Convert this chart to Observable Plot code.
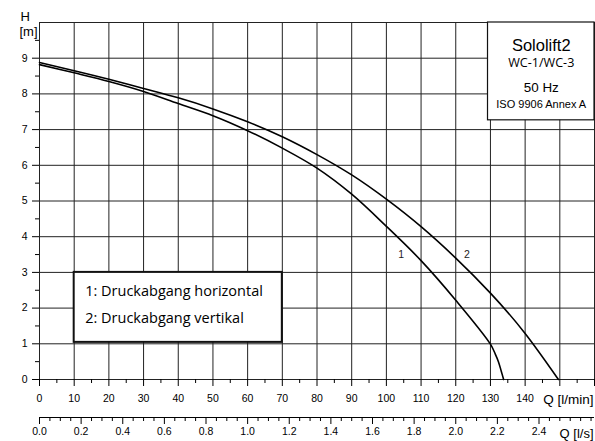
<!DOCTYPE html>
<html>
<head>
<meta charset="utf-8">
<script src="https://cdn.jsdelivr.net/npm/d3@7"></script>
<script src="https://cdn.jsdelivr.net/npm/@observablehq/plot@0.6"></script>
<style>
  html, body { margin: 0; padding: 0; background: #fff; }
  #chart svg { display: block; }
</style>
</head>
<body>
<div id="chart"></div>
<script>
// ---- data ----
// Curve 1: Druckabgang horizontal  (Q in l/min, H in m)
const q1 = [0, 10, 20, 30, 40, 50, 60, 70, 80, 90, 100, 110, 120, 130, 131.4, 132.3, 133.1, 133.8];
const h1 = [8.82, 8.59, 8.35, 8.07, 7.73, 7.39, 6.97, 6.48, 5.92, 5.19, 4.29, 3.33, 2.22, 0.99, 0.71, 0.5, 0.24, 0];
// Curve 2: Druckabgang vertikal
const q2 = [0, 10, 20, 30, 40, 50, 60, 70, 80, 90, 100, 110, 120, 130, 140, 149.6];
const h2 = [8.88, 8.65, 8.41, 8.15, 7.89, 7.58, 7.22, 6.80, 6.30, 5.73, 5.05, 4.28, 3.40, 2.42, 1.29, 0];

const curveNames = ["1", "2"];
const legendLines = ["1: Druckabgang horizontal", "2: Druckabgang vertikal"];
const infoLines = ["Sololift2", "WC-1/WC-3", "50 Hz", "ISO 9906 Annex A"];

// tick values
const qGrid = [0, 10, 20, 30, 40, 50, 60, 70, 80, 90, 100, 110, 120, 130, 140, 150, 160];
const qTickLabels = [0, 10, 20, 30, 40, 50, 60, 70, 80, 90, 100, 110, 120, 130, 140];
const qExtraMajor = [150, 160];
const qMinor = [5, 15, 25, 35, 45, 55, 65, 75, 85, 95, 105, 115, 125, 135, 145, 155];
const hGrid = [0, 1, 2, 3, 4, 5, 6, 7, 8, 9, 10];
const hTickLabels = [0, 1, 2, 3, 4, 5, 6, 7, 8, 9];
const hMinor = [0.5, 1.5, 2.5, 3.5, 4.5, 5.5, 6.5, 7.5, 8.5, 9.5];
const lsTickLabels = [0.0, 0.2, 0.4, 0.6, 0.8, 1.0, 1.2, 1.4, 1.6, 1.8, 2.0, 2.2, 2.4];
const lsMinor = [0.05, 0.1, 0.15, 0.25, 0.3, 0.35, 0.45, 0.5, 0.55, 0.65, 0.7, 0.75, 0.85, 0.9, 0.95,
                 1.05, 1.1, 1.15, 1.25, 1.3, 1.35, 1.45, 1.5, 1.55, 1.65, 1.7, 1.75, 1.85, 1.9, 1.95,
                 2.05, 2.1, 2.15, 2.25, 2.3, 2.35, 2.45, 2.5, 2.55, 2.6, 2.65];

// ---- build tables ----
const curve1 = q1.map((q, i) => ({q, h: h1[i]}));
const curve2 = q2.map((q, i) => ({q, h: h2[i]}));
const lsPerMin = 60;

const SANS = "'Liberation Sans', Arial, sans-serif";
const SEGOE = "'Open Sans', 'Noto Sans', sans-serif";

const infoBox = [{x1: 129.3, x2: 160, y1: 7.26, y2: 10}];
const legendBox = [{x1: 10, x2: 70, y1: 1.04, y2: 3}];
const lsOffset = 38;

const chart = Plot.plot({
  width: 595,
  height: 441,
  marginLeft: 39,
  marginRight: 1,
  marginTop: 22,
  marginBottom: 62,
  x: {domain: [0, 160], label: null},
  y: {domain: [0, 10], label: null},
  style: {fontFamily: SANS, fontSize: "10.5px", color: "#000", background: "#fff"},
  marks: [
    Plot.gridX(qGrid, {stroke: "#222", strokeOpacity: 1, strokeWidth: 1}),
    Plot.gridY(hGrid, {stroke: "#222", strokeOpacity: 1, strokeWidth: 1}),

    // y axis
    Plot.axisY(hTickLabels, {tickSize: 7, tickPadding: 5, fontSize: 10.5, label: null}),
    Plot.axisY(hMinor, {tickSize: 4, tickFormat: () => "", label: null}),

    // x axis (l/min)
    Plot.axisX(qTickLabels, {tickSize: 7, tickPadding: 8, fontSize: 10.5, label: null}),
    Plot.axisX(qExtraMajor, {tickSize: 7, tickFormat: () => "", label: null}),
    Plot.axisX(qMinor, {tickSize: 4, tickFormat: () => "", label: null}),

    // second x axis (l/s)
    Plot.ruleY([0], {dy: lsOffset, stroke: "#000"}),
    Plot.axisX(lsTickLabels.map(v => v * lsPerMin), {
      tickSize: 7, tickPadding: 3, dy: lsOffset, fontSize: 10.5, label: null,
      tickFormat: d => (d / lsPerMin).toFixed(1)
    }),
    Plot.axisX(lsMinor.map(v => v * lsPerMin), {tickSize: 4, dy: lsOffset, tickFormat: () => "", label: null}),

    // axis titles
    Plot.text(["H"], {frameAnchor: "top-left", dx: -19, dy: -2, lineAnchor: "bottom", fontSize: 13}),
    Plot.text(["[m]"], {frameAnchor: "top-left", dx: -20, dy: 13, lineAnchor: "bottom", fontSize: 13}),
    Plot.text(["Q [l/min]"], {frameAnchor: "bottom-right", dx: -1, dy: 24.6, lineAnchor: "bottom", textAnchor: "end", fontSize: 13.5}),
    Plot.text(["Q [l/s]"], {frameAnchor: "bottom-right", dx: -1, dy: 58.8, lineAnchor: "bottom", textAnchor: "end", fontSize: 13}),

    // curves
    Plot.line(curve1, {x: "q", y: "h", curve: "catmull-rom", stroke: "#000", strokeWidth: 1.6}),
    Plot.line(curve2, {x: "q", y: "h", curve: "natural", stroke: "#000", strokeWidth: 1.6}),
    Plot.text([{q: 104.3, h: 3.4, t: curveNames[0]}, {q: 123.2, h: 3.4, t: curveNames[1]}],
      {x: "q", y: "h", text: "t", lineAnchor: "bottom", fontSize: 10.5, fill: "#222"}),

    // info box (top right)
    Plot.rect(infoBox, {x1: "x1", x2: "x2", y1: "y1", y2: "y2", fill: "#fff", stroke: "#111", strokeWidth: 1.2}),
    Plot.text([{t: infoLines[0], h: 9.196}], {x: 144.65, y: "h", text: "t", lineAnchor: "bottom", fontSize: 16.5, fontFamily: SANS}),
    Plot.text([{t: infoLines[1], h: 8.753}], {x: 144.65, y: "h", text: "t", lineAnchor: "bottom", fontSize: 12.6, fontFamily: SEGOE}),
    Plot.text([{t: infoLines[2], h: 8.052}], {x: 144.65, y: "h", text: "t", lineAnchor: "bottom", fontSize: 13.4, fontFamily: SANS}),
    Plot.text([{t: infoLines[3], h: 7.609}], {x: 144.65, y: "h", text: "t", lineAnchor: "bottom", fontSize: 11, fontFamily: SANS}),

    // legend box
    Plot.rect(legendBox, {x1: "x1", x2: "x2", y1: "y1", y2: "y2", fill: "#fff", stroke: "#111", strokeWidth: 2}),
    Plot.text([{t: legendLines[0], h: 2.347}, {t: legendLines[1], h: 1.57}],
      {x: 10, y: "h", text: "t", dx: 11, textAnchor: "start", lineAnchor: "bottom", fontSize: 14.5, fontFamily: SEGOE})
  ]
});

document.getElementById("chart").appendChild(chart);
</script>
</body>
</html>
